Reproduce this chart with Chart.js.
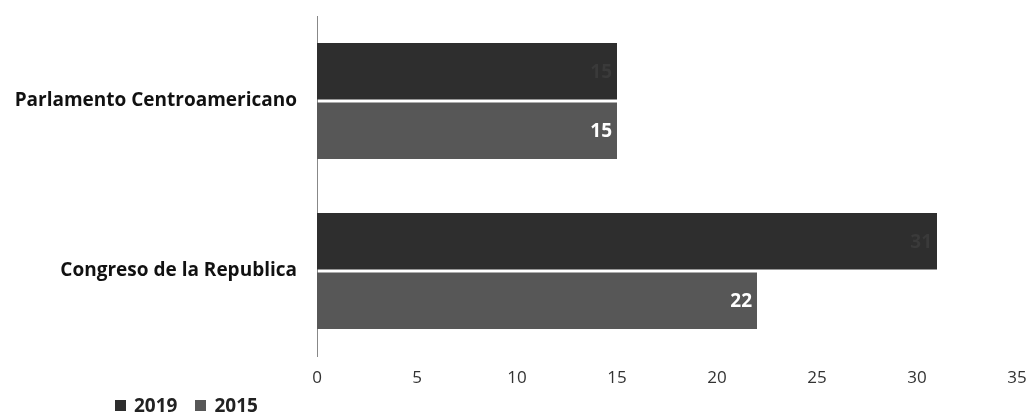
<!DOCTYPE html>
<html>
<head>
<meta charset="utf-8">
<script src="https://cdn.jsdelivr.net/npm/chart.js@4/dist/chart.umd.min.js"></script>
<style>
  html, body { margin: 0; padding: 0; background: #fff; }
  #wrap { position: relative; width: 1032px; height: 416px; }
  #legend { position: absolute; left: 115px; top: 392px; font: bold 19px "Open Sans", sans-serif; color: #222; white-space: nowrap; }
  #legend span.sw { display: inline-block; width: 11px; height: 11px; margin-right: 8px; vertical-align: 1px; }
  #legend span.it { margin-right: 18px; }
</style>
</head>
<body>
<div id="wrap">
  <canvas id="chart" width="1032" height="416"></canvas>
  <div id="legend"></div>
</div>
<script>
// Datos del gráfico
const categorias = ["Parlamento Centroamericano", "Congreso de la Republica"];
const valores2019 = [15, 31];
const valores2015 = [15, 22];
const series = ["2019", "2015"];
const colores = ["#2e2e2e", "#575757"];
const coloresEtiqueta = ["#3a3a3a", "#ffffff"];

// Etiquetas de valor dentro de cada barra
const etiquetasPlugin = {
    id: "etiquetas",
    afterDatasetsDraw(chart) {
        const ctx = chart.ctx;
        ctx.save();
        ctx.font = "bold 19px 'Open Sans', sans-serif";
        ctx.textAlign = "right";
        ctx.textBaseline = "middle";
        chart.data.datasets.forEach((ds, i) => {
            chart.getDatasetMeta(i).data.forEach((bar, j) => {
                ctx.fillStyle = coloresEtiqueta[i];
                ctx.fillText(ds.data[j], bar.x - 5, bar.y + 1);
            });
        });
        ctx.restore();
    }
};

new Chart(document.getElementById("chart"), {
    type: "bar",
    data: {
        labels: categorias,
        datasets: [
            { label: series[0], data: valores2019, backgroundColor: colores[0] },
            { label: series[1], data: valores2015, backgroundColor: colores[1] }
        ]
    },
    options: {
        indexAxis: "y",
        responsive: false,
        animation: false,
        layout: { padding: { top: 16, right: 0 } },
        categoryPercentage: 0.7,
        barPercentage: 0.95,
        plugins: { legend: { display: false }, tooltip: { enabled: false } },
        scales: {
            x: {
                min: 0, max: 35,
                grid: { display: false, drawTicks: false },
                border: { display: false },
                ticks: { stepSize: 5, color: "#333", padding: 12, font: { family: "Open Sans", size: 17 } },
                afterFit(scale) {
                    scale.height = 60;
                    scale.paddingRight = 15;
                }
            },
            y: {
                grid: { display: false, drawTicks: false },
                border: { display: true, color: "#888", dash: [1, 2], width: 1 },
                ticks: { color: "#111", padding: 20, font: { family: "Open Sans", size: 19, weight: "bold" } },
                afterFit(scale) {
                    scale.width = 317;
                    scale.paddingTop = 0;
                    scale.paddingBottom = 0;
                }
            }
        }
    },
    plugins: [etiquetasPlugin]
});

// Leyenda
const legend = document.getElementById("legend");
legend.innerHTML = series.map((s, i) =>
    `<span class="it"><span class="sw" style="background:${colores[i]}"></span>${s}</span>`
).join("");
</script>
</body>
</html>
